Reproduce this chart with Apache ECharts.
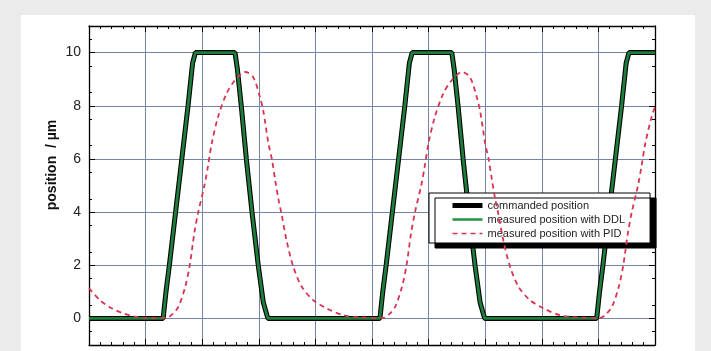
<!DOCTYPE html>
<html>
<head>
<meta charset="utf-8">
<script src="https://cdn.jsdelivr.net/npm/echarts@6/dist/echarts.min.js"></script>
<style>
html,body{margin:0;padding:0;background:#ebebeb;width:711px;height:351px;overflow:hidden;}
#panel{position:absolute;left:21px;top:15px;width:674px;height:336px;background:#fff;}
#chart{position:absolute;left:0;top:0;width:674px;height:336px;}
</style>
</head>
<body>
<div id="panel"><div id="chart"></div></div>
<script>
// ---- data ----
const seriesNames = ['commanded position', 'measured position with DDL', 'measured position with PID'];
const yTickLabels = [0, 2, 4, 6, 8, 10];

const commanded = [
  [0,0],[1.31,0],[1.36,1],[1.42,2],[1.53,4],[1.64,6],[1.75,8],[1.83,9.6],[1.88,10],
  [2.58,10],[2.62,9.4],[2.69,8],[2.78,6],[2.88,4],[2.99,2],[3.08,0.6],[3.16,0],
  [5.14,0],[5.19,1],[5.25,2],[5.36,4],[5.47,6],[5.58,8],[5.66,9.6],[5.71,10],
  [6.41,10],[6.45,9.4],[6.52,8],[6.61,6],[6.71,4],[6.82,2],[6.91,0.6],[6.99,0],
  [8.97,0],[9.02,1],[9.08,2],[9.19,4],[9.30,6],[9.41,8],[9.49,9.6],[9.54,10],[10,10]
];
const measuredDDL = [
  [0,0],[1.31,0],[1.36,1],[1.42,2],[1.53,4],[1.64,6],[1.75,8],[1.83,9.6],[1.88,10],
  [2.58,10],[2.62,9.4],[2.69,8],[2.78,6],[2.88,4],[2.99,2],[3.08,0.6],[3.16,0],
  [5.14,0],[5.19,1],[5.25,2],[5.36,4],[5.47,6],[5.58,8],[5.66,9.6],[5.71,10],
  [6.41,10],[6.45,9.4],[6.52,8],[6.61,6],[6.71,4],[6.82,2],[6.91,0.6],[6.99,0],
  [8.97,0],[9.02,1],[9.08,2],[9.19,4],[9.30,6],[9.41,8],[9.49,9.6],[9.54,10],[10,10]
];
const measuredPID = [
  [0,1.14],[0.19,0.69],[0.40,0.38],[0.61,0.19],[0.81,0.07],[1.0,0.02],[1.37,0.02],
  [1.47,0.15],[1.58,0.44],[1.70,1.19],[1.78,2.0],[1.86,3.2],[1.93,4.0],[2.04,5.0],
  [2.10,5.7],[2.17,6.6],[2.28,7.58],[2.43,8.46],[2.58,8.96],[2.76,9.27],[2.90,9.08],
  [3.02,8.33],[3.08,7.8],[3.17,6.58],[3.23,6.0],[3.29,5.2],[3.35,4.45],[3.40,3.95],
  [3.49,2.94],[3.61,1.94],[3.76,1.19],[3.96,0.69],[4.20,0.38],[4.49,0.12],[4.79,0.04],
  [5.20,0.02],[5.30,0.15],[5.41,0.44],[5.53,1.19],[5.61,2.0],[5.69,3.2],[5.76,4.0],
  [5.87,5.0],[5.93,5.7],[6.00,6.6],[6.11,7.58],[6.26,8.46],[6.41,8.96],[6.59,9.27],
  [6.73,9.08],[6.85,8.33],[6.91,7.8],[7.00,6.58],[7.06,6.0],[7.12,5.2],[7.18,4.45],
  [7.23,3.95],[7.32,2.94],[7.44,1.94],[7.59,1.19],[7.79,0.69],[8.03,0.38],[8.32,0.12],
  [8.62,0.04],[9.03,0.02],[9.13,0.15],[9.24,0.44],[9.36,1.19],[9.44,2.0],[9.52,3.2],
  [9.59,4.0],[9.70,5.0],[9.76,5.7],[9.83,6.6],[9.94,7.58],[10,7.95]
];

// ---- chart ----
const chart = echarts.init(document.getElementById('chart'), null, {renderer: 'canvas'});
const gridColor = '#7584ab';
const tickStyle = {color: '#000', width: 1};
const xBase = {
  type: 'value', min: 0, max: 10, interval: 1,
  axisLine: {show: true, onZero: false, lineStyle: {color: '#000', width: 1.3}},
  axisTick: {show: true, inside: true, length: 6, lineStyle: tickStyle},
  minorTick: {show: true, splitNumber: 5, length: 3, lineStyle: tickStyle},
  axisLabel: {show: false},
  splitLine: {show: false}
};
const yBase = {
  type: 'value', min: -1, max: 11, interval: 2,
  axisLine: {show: true, onZero: false, lineStyle: {color: '#000', width: 1.3}},
  axisTick: {show: true, inside: true, length: 6, lineStyle: tickStyle, customValues: yTickLabels},
  minorTick: {show: true, splitNumber: 4, length: 3, lineStyle: tickStyle},
  splitLine: {show: false}
};
chart.setOption({
  animation: false,
  grid: {left: 68, top: 11, width: 566, height: 319, containLabel: false},
  xAxis: [
    Object.assign({}, xBase, {position: 'bottom', splitLine: {show: true, lineStyle: {color: gridColor, width: 1}}}),
    Object.assign({}, xBase, {position: 'top'})
  ],
  yAxis: [
    Object.assign({}, yBase, {position: 'left',
      splitLine: {show: true, lineStyle: {color: gridColor, width: 1}},
      axisLabel: {show: true, margin: 8, fontSize: 14, color: '#222', fontFamily: 'Liberation Sans, Arial, sans-serif',
        customValues: yTickLabels}}),
    Object.assign({}, yBase, {position: 'right', axisLabel: {show: false}})
  ],
  legend: {
    orient: 'vertical', left: 408, top: 178,
    itemWidth: 30, itemHeight: 10, itemGap: 3,
    padding: [7, 25, 4, 21],
    backgroundColor: '#fff', borderColor: '#000', borderWidth: 1,
    shadowColor: '#000', shadowBlur: 0, shadowOffsetX: 6, shadowOffsetY: 5,
    itemStyle: {color: 'transparent', borderColor: 'transparent', borderWidth: 0, opacity: 0},
    textStyle: {fontSize: 11, color: '#222', fontFamily: 'Liberation Sans, Arial, sans-serif'},
    data: [
      {name: seriesNames[0], lineStyle: {width: 5, color: '#000'}},
      {name: seriesNames[1], lineStyle: {width: 2.5, color: '#239043'}},
      {name: seriesNames[2], lineStyle: {width: 1.6, color: '#d9344f', type: [5, 4]}}
    ]
  },
  graphic: [{
    type: 'text', x: 31, y: 150, rotation: Math.PI / 2,
    style: {text: 'position  / \u00b5m', font: 'bold 14px "Liberation Sans", Arial, sans-serif',
      fill: '#111', textAlign: 'center', textVerticalAlign: 'middle'}
  }],
  series: [
    {name: seriesNames[0], type: 'line', data: commanded, symbol: 'none', xAxisIndex: 0, yAxisIndex: 0,
      lineStyle: {color: '#000', width: 5}, itemStyle: {color: '#000'}, z: 2},
    {name: seriesNames[1], type: 'line', data: measuredDDL, symbol: 'none', xAxisIndex: 0, yAxisIndex: 0,
      lineStyle: {color: '#1f7d3c', width: 2.8}, itemStyle: {color: '#1f7d3c'}, z: 3},
    {name: seriesNames[2], type: 'line', data: measuredPID, symbol: 'none', smooth: 0.3, xAxisIndex: 0, yAxisIndex: 0,
      lineStyle: {color: '#d9344f', width: 1.8, type: [5, 4]}, itemStyle: {color: '#d9344f'}, z: 4}
  ]
});
</script>
</body>
</html>
